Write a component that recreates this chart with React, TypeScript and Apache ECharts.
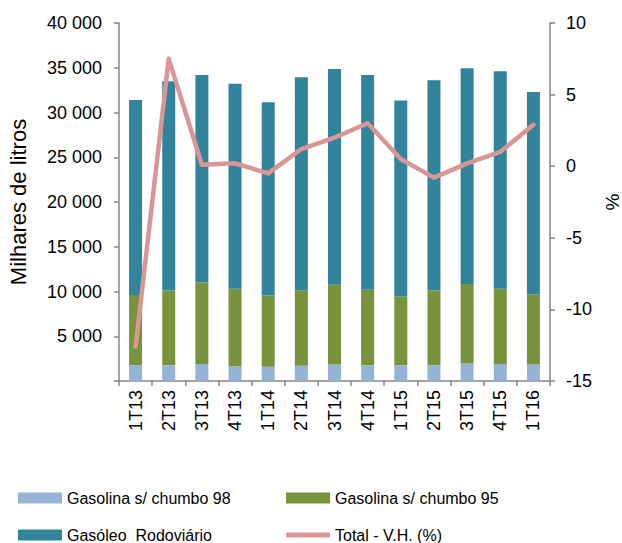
import React, { useEffect, useRef } from "react";
import * as echarts from "echarts";

const categories = ["1T13", "2T13", "3T13", "4T13", "1T14", "2T14", "3T14", "4T14", "1T15", "2T15", "3T15", "4T15", "1T16"];
const gasolina98 = [1750, 1750, 1900, 1650, 1600, 1700, 1850, 1750, 1750, 1750, 1950, 1900, 1850];
const gasolina95 = [7850, 8350, 9100, 8650, 7950, 8450, 8900, 8450, 7700, 8350, 8900, 8400, 7850];
const gasoleo = [21800, 23400, 23200, 22900, 21600, 23800, 24100, 24000, 21900, 23500, 24100, 24300, 22600];
const totalVH = [-12.6, 7.5, 0.1, 0.2, -0.5, 1.2, 2.0, 3.0, 0.5, -0.8, 0.2, 1.0, 2.9];

const seriesNames = ["Gasolina s/ chumbo 98", "Gasolina s/ chumbo 95", "Gasóleo  Rodoviário", "Total - V.H. (%)"];
const colors = ["#95B3D7", "#77933C", "#31849B", "#D99694"];

const FONT = "'Liberation Sans', Arial, sans-serif";

function fmt(v: number) {
  if (v === 0) return "";
  return String(v).replace(/\B(?=(\d{3})+(?!\d))/g, " ");
}

export default function App() {
  const ref = useRef<HTMLDivElement>(null);
  useEffect(() => {
    if (!ref.current) return;
    const chart = echarts.init(ref.current, null, { renderer: "svg" });
    const axisColor = "#868686";
    const legendBase = (name: string, left: number, top: number, extra: any = {}) => ({
      data: [name],
      left,
      top,
      orient: "horizontal",
      itemWidth: 44,
      itemHeight: 11,
      itemGap: 0,
      textStyle: { fontFamily: FONT, fontSize: 16, color: "#000", padding: [0, 0, 0, 0] },
      padding: 0,
      icon: "rect",
      ...extra,
    });
    chart.setOption({
      animation: false,
      textStyle: { fontFamily: FONT },
      grid: { left: 119, right: 72, top: 23, bottom: 162, outerBoundsMode: "none", containLabel: false },
      legend: [
        legendBase(seriesNames[0], 18, 490),
        legendBase(seriesNames[1], 286, 490),
        legendBase(seriesNames[2], 18, 527),
        legendBase(seriesNames[3], 286, 527, { icon: "roundRect", itemHeight: 5, itemStyle: { borderRadius: 3 } }),
      ],
      xAxis: {
        type: "category",
        data: categories,
        axisLine: { lineStyle: { color: axisColor, width: 1.5 } },
        axisTick: { show: true, interval: 0, length: 5, lineStyle: { color: axisColor, width: 1.5 } },
        axisLabel: { rotate: 90, interval: 0, fontSize: 18, color: "#000", margin: 9, fontFamily: FONT },
      },
      yAxis: [
        {
          type: "value",
          min: 0,
          max: 40000,
          interval: 5000,
          name: "Milhares de litros",
          nameLocation: "middle",
          nameRotate: 90,
          nameGap: 90,
          nameTextStyle: { fontSize: 22, color: "#000", fontFamily: FONT },
          axisLine: { show: true, lineStyle: { color: axisColor, width: 1.5 } },
          axisTick: { show: true, length: 5, lineStyle: { color: axisColor, width: 1.5 } },
          axisLabel: { formatter: fmt, fontSize: 18, color: "#000", margin: 17, fontFamily: FONT },
          splitLine: { show: false },
        },
        {
          type: "value",
          min: -15,
          max: 10,
          interval: 5,
          position: "right",
          name: "%",
          nameLocation: "middle",
          nameRotate: 90,
          nameGap: 50,
          nameTextStyle: { fontSize: 19, color: "#000", fontFamily: FONT },
          axisLine: { show: true, lineStyle: { color: axisColor, width: 1.5 } },
          axisTick: { show: true, length: 5, lineStyle: { color: axisColor, width: 1.5 } },
          axisLabel: { fontSize: 18, color: "#000", margin: 16, fontFamily: FONT },
          splitLine: { show: false },
        },
      ],
      series: [
        {
          name: seriesNames[0],
          type: "bar",
          stack: "total",
          data: gasolina98,
          barWidth: 13,
          itemStyle: { color: colors[0] },
        },
        {
          name: seriesNames[1],
          type: "bar",
          stack: "total",
          data: gasolina95,
          barWidth: 13,
          itemStyle: { color: colors[1] },
        },
        {
          name: seriesNames[2],
          type: "bar",
          stack: "total",
          data: gasoleo,
          barWidth: 13,
          itemStyle: { color: colors[2] },
        },
        {
          name: seriesNames[3],
          type: "line",
          yAxisIndex: 1,
          data: totalVH,
          symbol: "none",
          z: 5,
          itemStyle: { color: colors[3] },
          lineStyle: { color: colors[3], width: 4.5, cap: "round", join: "round" },
        },
      ],
    });
    return () => chart.dispose();
  }, []);
  return <div ref={ref} style={{ width: 622, height: 543, position: "absolute", left: 0, top: 0 }} />;
}
